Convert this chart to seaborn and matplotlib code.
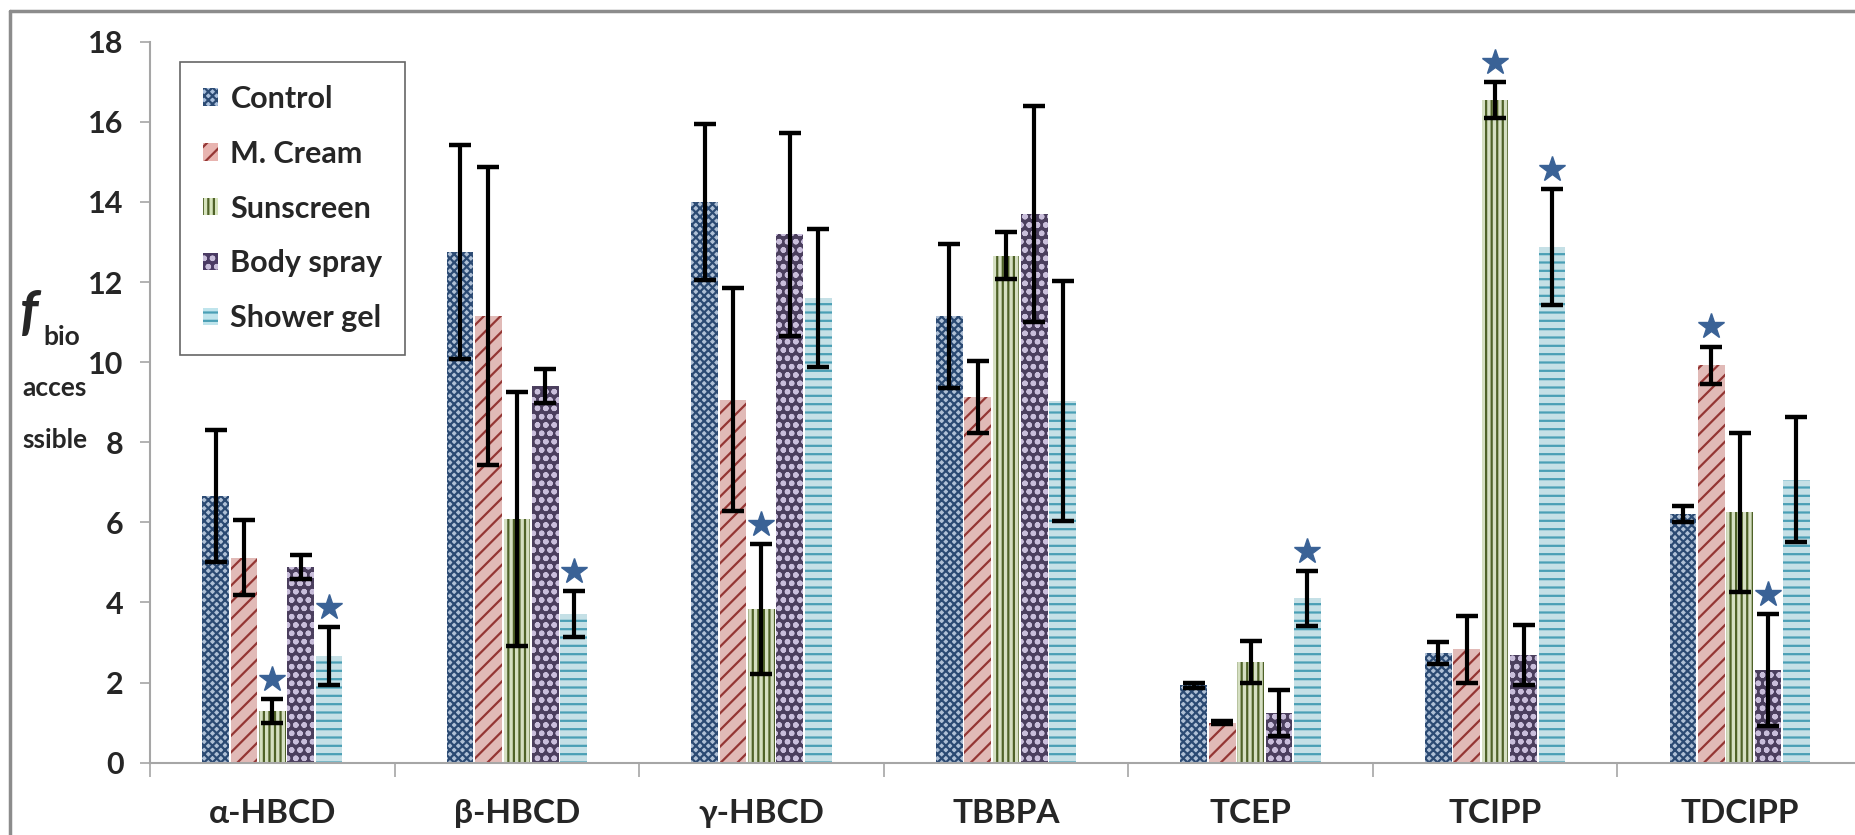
import matplotlib
matplotlib.use("Agg")
import matplotlib.pyplot as plt
from matplotlib.patches import Patch
from matplotlib.lines import Line2D
import seaborn as sns
import pandas as pd
import numpy as np

# ── data ────────────────────────────────────────────────────────────────
compounds = ["α-HBCD", "β-HBCD", "γ-HBCD", "TBBPA", "TCEP", "TCIPP", "TDCIPP"]
treatments = ["Control", "M. Cream", "Sunscreen", "Body spray", "Shower gel"]

control = [6.65, 12.75, 14.0, 11.15, 1.93, 2.74, 6.2]
control_err = [1.65, 2.67, 1.95, 1.8, 0.06, 0.27, 0.2]
cream = [5.12, 11.15, 9.06, 9.12, 1.0, 2.83, 9.92]
cream_err = [0.93, 3.73, 2.78, 0.9, 0.04, 0.84, 0.47]
sunscreen = [1.3, 6.08, 3.84, 12.66, 2.51, 16.55, 6.25]
sunscreen_err = [0.3, 3.17, 1.63, 0.58, 0.53, 0.45, 1.98]
body_spray = [4.89, 9.41, 13.19, 13.69, 1.24, 2.69, 2.31]
body_spray_err = [0.3, 0.43, 2.54, 2.7, 0.58, 0.74, 1.4]
shower_gel = [2.66, 3.72, 11.6, 9.03, 4.1, 12.87, 7.07]
shower_gel_err = [0.72, 0.57, 1.72, 3.0, 0.68, 1.45, 1.55]

# significant differences (star markers)
stars = [("α-HBCD", "Sunscreen"), ("α-HBCD", "Shower gel"), ("β-HBCD", "Shower gel"),
         ("γ-HBCD", "Sunscreen"), ("TCEP", "Shower gel"), ("TCIPP", "Sunscreen"),
         ("TCIPP", "Shower gel"), ("TDCIPP", "M. Cream"), ("TDCIPP", "Body spray")]

means = [control, cream, sunscreen, body_spray, shower_gel]
errs = [control_err, cream_err, sunscreen_err, body_spray_err, shower_gel_err]

rows = []
for t, vals, es in zip(treatments, means, errs):
    for c, v, e in zip(compounds, vals, es):
        rows.append({"compound": c, "treatment": t, "value": v, "err": e})
df = pd.DataFrame(rows)

# ── style ───────────────────────────────────────────────────────────────
face = ["#a9bfdc", "#e8b4b0", "#d7e4bd", "#4a3a63", "#bfe4ec"]
hatch_col = ["#2b4a73", "#943634", "#4f6228", "#c9bedb", "#4a9fb5"]
hatches = ["xxxx", "//", "|||", "oo", "--"]

sns.set_theme(style="white")
plt.rcParams["font.family"] = ["Lato", "DejaVu Sans"]
plt.rcParams["font.weight"] = "bold"
plt.rcParams["hatch.linewidth"] = 1.6

fig = plt.figure(figsize=(18.56, 8.35), dpi=100)
fig.patch.set_facecolor("white")
ax = fig.add_axes([150 / 1856, 72.3 / 835, 1712 / 1856, 721 / 835])

sns.barplot(data=df, x="compound", y="value", hue="treatment",
            order=compounds, hue_order=treatments, palette=face,
            width=0.58, gap=0.06, errorbar=None, legend=False, ax=ax)

bar_containers = list(ax.containers)
star_x, star_y = [], []
for i, cont in enumerate(bar_containers):
    xs = []
    for bar in cont:
        bar.set_hatch(hatches[i])
        bar.set_edgecolor(hatch_col[i])
        bar.set_linewidth(0)
        xs.append(bar.get_x() + bar.get_width() / 2)
    ax.errorbar(xs, means[i], yerr=errs[i], fmt="none", ecolor="black",
                elinewidth=3, capsize=8, capthick=3.2, zorder=5)
    for j, c in enumerate(compounds):
        if (c, treatments[i]) in stars:
            star_x.append(xs[j])
            star_y.append(means[i][j] + errs[i][j] + 0.5)
ax.plot(star_x, star_y, linestyle="none", marker="*", markersize=19,
        color="#3a6296", zorder=6)

# axes
ax.set_xlim(-0.5, 6.5)
ax.set_ylim(0, 18)
ax.set_yticks(range(0, 19, 2))
ax.set_xlabel("")
ax.set_ylabel("")
for s in ["top", "right"]:
    ax.spines[s].set_visible(False)
for s in ["left", "bottom"]:
    ax.spines[s].set_color("#a6a6a6")
    ax.spines[s].set_linewidth(1.5)
ax.tick_params(axis="y", which="major", left=True, length=7, width=1.2,
               color="#a6a6a6", pad=12, labelsize=22)
ax.set_xticks(np.arange(-0.5, 7, 1), minor=True)
ax.tick_params(axis="x", which="minor", bottom=True, length=10, width=1.2,
               color="#a6a6a6")
ax.tick_params(axis="x", which="major", bottom=False, pad=20, labelsize=24)
for lab in ax.get_xticklabels() + ax.get_yticklabels():
    lab.set_fontweight("bold")

# legend
handles = [Patch(facecolor=face[i], edgecolor=hatch_col[i], hatch=hatches[i],
                 linewidth=0, label=treatments[i]) for i in range(5)]
leg = ax.legend(handles=handles, loc="upper left", bbox_to_anchor=(0.0175, 0.972),
                borderaxespad=0, frameon=True, fancybox=False,
                handlelength=0.5, handleheight=0.5, handletextpad=0.4,
                labelspacing=0.88, borderpad=0.75,
                prop={"weight": "bold", "size": 22})
leg.get_frame().set_edgecolor("#404040")
leg.get_frame().set_linewidth(1.2)

# y label: f_bio accessible
fig.text(20 / 1856, 0.624, "f", fontsize=40, fontstyle="italic",
         fontweight="bold", va="center", ha="left")
fig.text(43 / 1856, 0.597, "bio", fontsize=19, fontweight="bold",
         va="center", ha="left")
fig.text(22 / 1856, 0.535, "acces", fontsize=19, fontweight="bold",
         va="center", ha="left")
fig.text(22 / 1856, 0.473, "ssible", fontsize=19, fontweight="bold",
         va="center", ha="left")

# figure frame (top and left)
fig.add_artist(Line2D([10 / 1856, 10 / 1856], [0, 1 - 11 / 835],
                      color="#8c8c8c", linewidth=2.5))
fig.add_artist(Line2D([10 / 1856, 1], [1 - 11 / 835, 1 - 11 / 835],
                      color="#8c8c8c", linewidth=2.5))

fig.savefig("out.png", dpi=100, facecolor="white")
